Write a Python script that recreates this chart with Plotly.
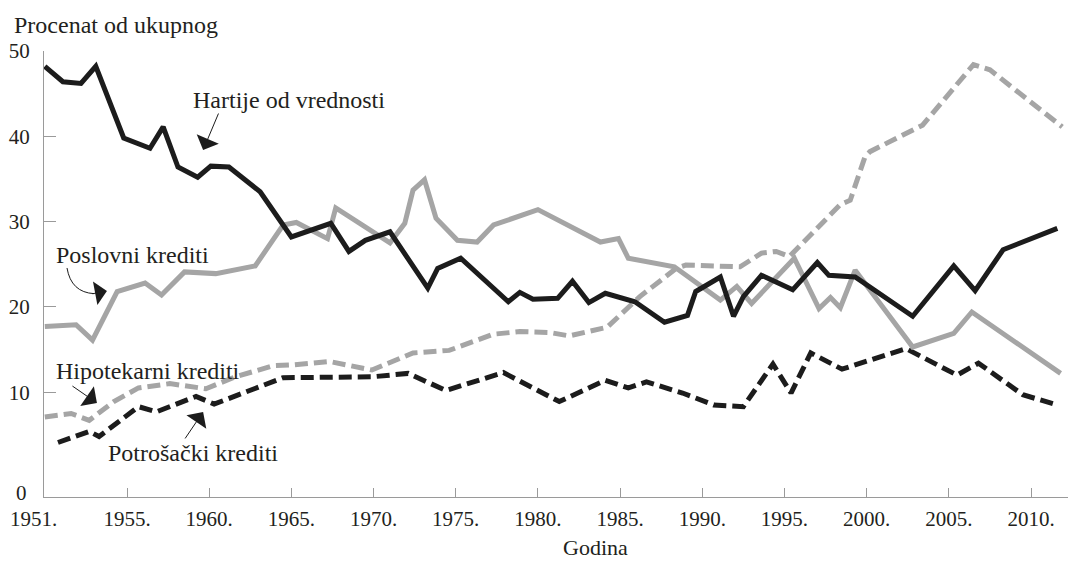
import plotly.graph_objects as go

# ---- data (x positions in years, as placed against the year ticks; values in %) ----
hartije_x = [1950.0, 1951.1, 1952.2, 1953.1, 1954.8, 1956.4, 1957.2, 1958.1, 1959.3, 1960.1,
             1961.2, 1963.1, 1965.0, 1966.2, 1967.4, 1968.5, 1969.5, 1971.0, 1973.3, 1973.9,
             1975.3, 1978.2, 1978.9, 1979.7, 1980.7, 1981.2, 1982.1, 1983.1, 1984.1, 1985.9,
             1987.7, 1989.1, 1989.6, 1991.1, 1991.9, 1992.5, 1993.6, 1995.5, 1997.0, 1997.7,
             1999.3, 2002.8, 2005.3, 2006.6, 2008.3, 2011.6]
hartije_y = [48.2, 46.4, 46.2, 48.2, 39.8, 38.6, 41.1, 36.4, 35.2, 36.5,
             36.4, 33.5, 28.2, 29.0, 29.8, 26.5, 27.8, 28.8, 22.2, 24.5,
             25.7, 20.6, 21.7, 20.9, 20.9, 21.0, 23.0, 20.5, 21.6, 20.6,
             18.2, 19.0, 21.8, 23.5, 18.9, 21.2, 23.7, 22.0, 25.2, 23.7,
             23.5, 18.9, 24.8, 21.9, 26.7, 29.2]

poslovni_x = [1950.0, 1951.9, 1952.9, 1954.4, 1956.1, 1957.1, 1958.5, 1960.4, 1962.8, 1964.5,
              1965.3, 1967.2, 1967.7, 1971.0, 1971.9, 1972.4, 1973.1, 1973.8, 1975.1, 1976.3,
              1977.3, 1980.0, 1983.8, 1984.9, 1985.5, 1988.3, 1991.1, 1992.1, 1993.0, 1995.6,
              1997.1, 1997.8, 1998.4, 1999.3, 2002.8, 2005.3, 2006.4, 2011.8]
poslovni_y = [17.7, 17.9, 16.1, 21.8, 22.8, 21.4, 24.1, 23.9, 24.8, 29.6,
              29.9, 28.0, 31.6, 27.5, 29.8, 33.7, 34.9, 30.4, 27.8, 27.6,
              29.6, 31.4, 27.6, 28.0, 25.7, 24.7, 20.8, 22.4, 20.4, 25.7,
              19.8, 21.1, 19.9, 24.3, 15.3, 16.9, 19.4, 12.2]

hipotekarni_x = [1950.0, 1951.6, 1952.7, 1954.2, 1955.7, 1957.6, 1959.8, 1961.6, 1963.9, 1965.1,
                 1967.3, 1969.9, 1972.4, 1974.6, 1977.3, 1978.9, 1980.7, 1981.9, 1984.2, 1986.2,
                 1988.4, 1989.0, 1992.3, 1993.6, 1994.5, 1995.3, 1998.4, 1999.0, 1999.9, 2000.2,
                 2003.4, 2006.5, 2007.5, 2011.9]
hipotekarni_y = [7.1, 7.5, 6.7, 8.9, 10.5, 11.0, 10.4, 11.8, 13.1, 13.2,
                 13.6, 12.6, 14.6, 14.9, 16.8, 17.1, 17.0, 16.6, 17.6, 21.2,
                 24.5, 24.9, 24.7, 26.3, 26.5, 25.9, 32.0, 32.5, 37.6, 38.2,
                 41.3, 48.4, 47.8, 41.1]

potrosacki_x = [1950.8, 1952.7, 1953.3, 1955.7, 1956.8, 1959.2, 1960.3, 1962.6, 1964.5, 1969.9,
                1972.1, 1974.4, 1977.9, 1981.3, 1984.1, 1985.5, 1986.6, 1988.8, 1990.7, 1992.5,
                1994.3, 1995.4, 1996.6, 1998.5, 2002.4, 2005.5, 2006.8, 2009.5, 2011.6]
potrosacki_y = [4.1, 5.4, 4.8, 8.3, 7.7, 9.5, 8.6, 10.3, 11.7, 11.8,
                12.2, 10.2, 12.3, 8.9, 11.4, 10.5, 11.2, 9.9, 8.5, 8.3,
                13.3, 9.9, 14.6, 12.7, 15.1, 12.0, 13.4, 9.7, 8.5]

tick_years = [1955, 1960, 1965, 1970, 1975, 1980, 1985, 1990, 1995, 2000, 2005, 2010]
tick_year_text = [f"{y}." for y in tick_years]
y_ticks = [10, 20, 30, 40, 50]

GRAY = "#a5a5a5"
BLACK = "#1c1c1c"
AXIS = "#9a9a9a"
TEXT = "#231f20"
FONT = "Liberation Serif"
LABEL_SIZE = 24

fig = go.Figure()
fig.add_trace(go.Scatter(x=hipotekarni_x, y=hipotekarni_y, mode="lines",
                         line=dict(color=GRAY, width=5, dash="13px,6px")))
fig.add_trace(go.Scatter(x=potrosacki_x, y=potrosacki_y, mode="lines",
                         line=dict(color=BLACK, width=5, dash="13px,6px")))
fig.add_trace(go.Scatter(x=poslovni_x, y=poslovni_y, mode="lines",
                         line=dict(color=GRAY, width=5)))
fig.add_trace(go.Scatter(x=hartije_x, y=hartije_y, mode="lines",
                         line=dict(color=BLACK, width=5)))

fig.update_layout(
    width=1071, height=569,
    margin=dict(l=44, r=3, t=51, b=72),
    paper_bgcolor="white", plot_bgcolor="white",
    showlegend=False,
    font=dict(family=FONT, size=21, color=TEXT),
    xaxis=dict(range=[1949.95, 2012.25], tickvals=tick_years, ticktext=tick_year_text,
               ticks="inside", ticklen=9, tickcolor=AXIS, tickwidth=1,
               showline=True, linecolor=AXIS, linewidth=1,
               showgrid=False, zeroline=False, ticklabelstandoff=3,
               tickfont=dict(family=FONT, size=21, color=TEXT)),
    yaxis=dict(range=[-2.29, 50], tickvals=y_ticks, ticktext=[str(v) for v in y_ticks],
               ticks="inside", ticklen=12, tickcolor=AXIS, tickwidth=1,
               showline=True, linecolor=AXIS, linewidth=1,
               showgrid=False, zeroline=False, ticklabelstandoff=9,
               tickfont=dict(family=FONT, size=21, color=TEXT)),
)

# extra axis labels placed as in the reference
fig.add_annotation(text="0", xref="paper", yref="paper", x=-0.022, y=0.0, yshift=4,
                   xanchor="center", yanchor="middle", showarrow=False,
                   font=dict(family=FONT, size=21, color=TEXT))
fig.add_annotation(text="1951.", xref="paper", yref="paper", x=-0.0098, y=0.0, yshift=-22,
                   xanchor="center", yanchor="middle", showarrow=False,
                   font=dict(family=FONT, size=21, color=TEXT))
fig.add_annotation(text="Godina", xref="paper", yref="paper", x=0.539, y=-0.114,
                   xanchor="center", yanchor="middle", showarrow=False,
                   font=dict(family=FONT, size=22, color=TEXT))
fig.add_annotation(text="Procenat od ukupnog", xref="paper", yref="paper", x=-0.0313, y=1.058,
                   xanchor="left", yanchor="middle", showarrow=False,
                   font=dict(family=FONT, size=LABEL_SIZE, color=TEXT))

# series labels
for txt, lx, ly in [("Hartije od vrednosti", 1958.9, 44.26),
                    ("Poslovni krediti", 1950.55, 26.08),
                    ("Hipotekarni krediti", 1950.55, 12.49),
                    ("Potrošački krediti", 1953.72, 2.87)]:
    fig.add_annotation(text=txt, x=lx, y=ly, xanchor="left", yanchor="middle",
                       showarrow=False, font=dict(family=FONT, size=LABEL_SIZE, color=TEXT))

# pointer arrows
arrow_style = dict(text="", showarrow=True, arrowhead=1, arrowsize=4, arrowwidth=1,
                   arrowcolor=BLACK, axref="pixel", ayref="pixel")
fig.add_annotation(x=1959.63, y=38.39, ax=16, ay=-38, **arrow_style)
fig.add_annotation(x=1953.17, y=8.73, ax=-26, ay=-18, **arrow_style)
fig.add_annotation(x=1959.63, y=7.68, ax=-19, ay=28, **arrow_style)
fig.add_annotation(x=1953.78, y=21.86, ax=-16, ay=3, **arrow_style)
fig.add_shape(type="path", xref="x", yref="y",
              path="M 1951.35,24.56 Q 1951.6,21.7 1953.0,21.55",
              line=dict(color=BLACK, width=1))

fig.write_html("out.html", post_script="document.body.style.margin='0';",
               config={"displayModeBar": False})
